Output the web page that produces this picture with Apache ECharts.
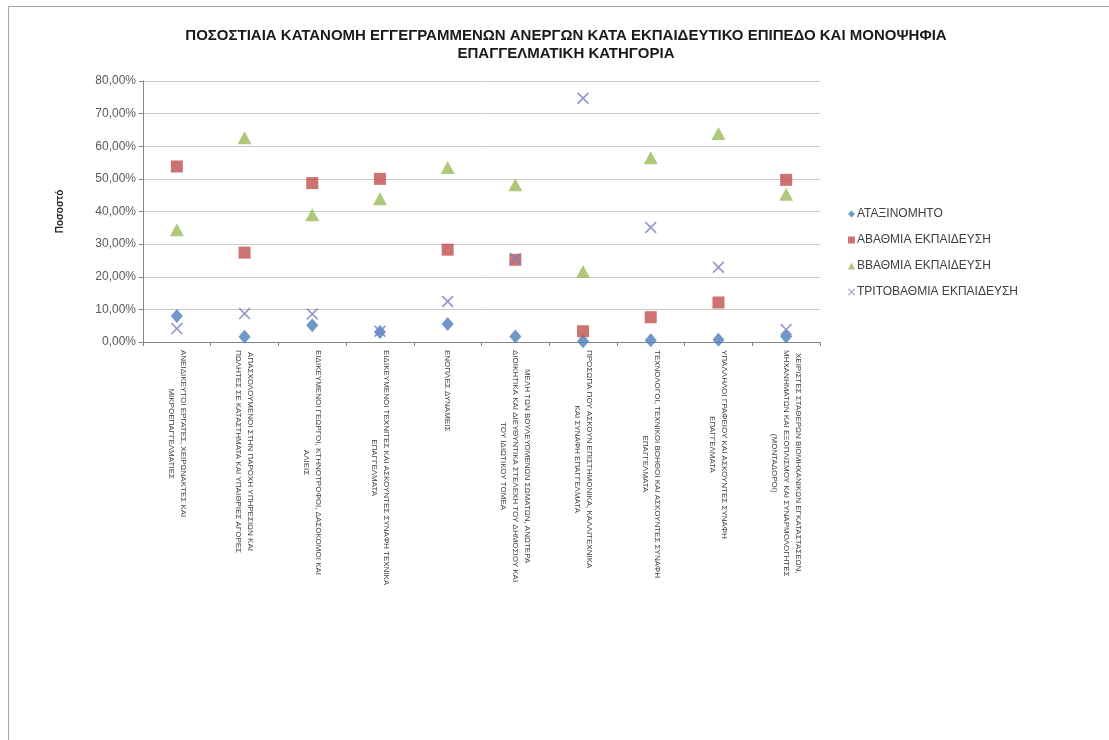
<!DOCTYPE html>
<html>
<head>
<meta charset="utf-8">
<script src="https://cdn.jsdelivr.net/npm/echarts@6/dist/echarts.min.js"></script>
<style>
html,body{margin:0;padding:0;background:#fff;}
#frame{position:absolute;left:8px;top:6px;width:1101px;height:734px;border-left:1px solid #a6a6a6;border-top:1px solid #a6a6a6;}
#chart{position:absolute;left:0;top:0;width:1109px;height:740px;}
</style>
</head>
<body>
<div id="frame"></div>
<div id="chart"></div>
<script>
var categories = [
  "ΑΝΕΙΔΙΚΕΥΤΟΙ ΕΡΓΑΤΕΣ, ΧΕΙΡΩΝΑΚΤΕΣ ΚΑΙ\nΜΙΚΡΟΕΠΑΓΓΕΛΜΑΤΙΕΣ",
  "ΑΠΑΣΧΟΛΟΥΜΕΝΟΙ ΣΤΗΝ ΠΑΡΟΧΗ ΥΠΗΡΕΣΙΩΝ ΚΑΙ\nΠΩΛΗΤΕΣ ΣΕ ΚΑΤΑΣΤΗΜΑΤΑ ΚΑΙ ΥΠΑΙΘΡΙΕΣ ΑΓΟΡΕΣ",
  "ΕΙΔΙΚΕΥΜΕΝΟΙ ΓΕΩΡΓΟΙ, ΚΤΗΝΟΤΡΟΦΟΙ, ΔΑΣΟΚΟΜΟΙ ΚΑΙ\nΑΛΙΕΙΣ",
  "ΕΙΔΙΚΕΥΜΕΝΟΙ ΤΕΧΝΙΤΕΣ ΚΑΙ ΑΣΚΟΥΝΤΕΣ ΣΥΝΑΦΗ ΤΕΧΝΙΚΑ\nΕΠΑΓΓΕΛΜΑΤΑ",
  "ΕΝΟΠΛΕΣ ΔΥΝΑΜΕΙΣ",
  "ΜΕΛΗ ΤΩΝ ΒΟΥΛΕΥΟΜΕΝΩΝ ΣΩΜΑΤΩΝ, ΑΝΩΤΕΡΑ\nΔΙΟΙΚΗΤΙΚΑ ΚΑΙ ΔΙΕΥΘΥΝΤΙΚΑ ΣΤΕΛΕΧΗ ΤΟΥ ΔΗΜΟΣΙΟΥ ΚΑΙ\nΤΟΥ ΙΔΙΩΤΙΚΟΥ ΤΟΜΕΑ",
  "ΠΡΟΣΩΠΑ ΠΟΥ ΑΣΚΟΥΝ ΕΠΙΣΤΗΜΟΝΙΚΑ, ΚΑΛΛΙΤΕΧΝΙΚΑ\nΚΑΙ ΣΥΝΑΦΗ ΕΠΑΓΓΕΛΜΑΤΑ",
  "ΤΕΧΝΟΛΟΓΟΙ, ΤΕΧΝΙΚΟΙ ΒΟΗΘΟΙ ΚΑΙ ΑΣΚΟΥΝΤΕΣ ΣΥΝΑΦΗ\nΕΠΑΓΓΕΛΜΑΤΑ",
  "ΥΠΑΛΛΗΛΟΙ ΓΡΑΦΕΙΟΥ ΚΑΙ ΑΣΚΟΥΝΤΕΣ ΣΥΝΑΦΗ\nΕΠΑΓΓΕΛΜΑΤΑ",
  "ΧΕΙΡΙΣΤΕΣ ΣΤΑΘΕΡΩΝ ΒΙΟΜΗΧΑΝΙΚΩΝ ΕΓΚΑΤΑΣΤΑΣΕΩΝ,\nΜΗΧΑΝΗΜΑΤΩΝ ΚΑΙ ΕΞΟΠΛΙΣΜΟΥ ΚΑΙ ΣΥΝΑΡΜΟΛΟΓΗΤΕΣ\n(ΜΟΝΤΑΔΟΡΟΙ)"
];
var seriesNames = ["ΑΤΑΞΙΝΟΜΗΤΟ", "ΑΒΑΘΜΙΑ ΕΚΠΑΙΔΕΥΣΗ", "ΒΒΑΘΜΙΑ ΕΚΠΑΙΔΕΥΣΗ", "ΤΡΙΤΟΒΑΘΜΙΑ ΕΚΠΑΙΔΕΥΣΗ"];
var unclassified = [8.0, 1.6, 5.1, 3.1, 5.5, 1.7, 0.2, 0.5, 0.7, 1.7];
var primaryEdu   = [53.8, 27.4, 48.7, 50.0, 28.3, 25.2, 3.3, 7.6, 12.1, 49.7];
var secondaryEdu = [34.4, 62.6, 39.0, 43.9, 53.5, 48.2, 21.6, 56.5, 63.9, 45.3];
var tertiaryEdu  = [4.1, 8.7, 8.6, 3.3, 12.4, 25.6, 74.7, 35.1, 22.9, 3.8];
var yTicks = [0, 10, 20, 30, 40, 50, 60, 70, 80];

var xPath = 'path://M0,1L1,0L5,4L9,0L10,1L6,5L10,9L9,10L5,6L1,10L0,9L4,5Z';
var narrowFont = "'Liberation Sans Narrow','Liberation Sans',sans-serif";
var regFont = "'Liberation Sans',Arial,sans-serif";

var chart = echarts.init(document.getElementById('chart'), null, {renderer: 'canvas'});
function fmtCat(v) {
  return v.split('\n').map(function (l) { return '{c|' + l + '}'; }).join('\n');
}
var option = {
  backgroundColor: 'transparent',
  animation: false,
  title: {
    text: 'ΠΟΣΟΣΤΙΑΙΑ ΚΑΤΑΝΟΜΗ ΕΓΓΕΓΡΑΜΜΕΝΩΝ ΑΝΕΡΓΩΝ ΚΑΤΑ ΕΚΠΑΙΔΕΥΤΙΚΟ ΕΠΙΠΕΔΟ ΚΑΙ ΜΟΝΟΨΗΦΙΑ\nΕΠΑΓΓΕΛΜΑΤΙΚΗ ΚΑΤΗΓΟΡΙΑ',
    left: 561, top: 22, textAlign: 'center',
    textStyle: {fontFamily: narrowFont, fontWeight: 'bold', fontSize: 15, color: '#1a1a1a', lineHeight: 18}
  },
  legend: {
    orient: 'vertical', left: 843, top: 203, itemGap: 14,
    itemWidth: 7, itemHeight: 7,
    data: seriesNames,
    textStyle: {fontFamily: regFont, fontSize: 12, color: '#404040', padding: [0, 0, 0, -3]}
  },
  grid: {left: 143, right: 289, top: 81, bottom: 398, containLabel: false},
  xAxis: {
    type: 'category', data: categories, boundaryGap: true,
    axisLine: {lineStyle: {color: '#868686', width: 1}},
    axisTick: {show: true, interval: 0, length: 4, lineStyle: {color: '#868686'}},
    splitLine: {show: false},
    axisLabel: {
      interval: 0, rotate: -90, margin: 8,
      formatter: fmtCat,
      fontFamily: narrowFont, fontSize: 8, color: '#404040', lineHeight: 12,
      rich: {c: {align: 'center', fontFamily: narrowFont, fontSize: 8, color: '#404040', lineHeight: 12}}
    }
  },
  yAxis: {
    type: 'value', min: 0, max: 80, interval: 10,
    name: 'Ποσοστό', nameLocation: 'middle', nameGap: 78, nameRotate: 90,
    nameTextStyle: {fontFamily: regFont, fontWeight: 'bold', fontSize: 10, color: '#262626'},
    axisLine: {show: true, lineStyle: {color: '#868686'}},
    axisTick: {show: true, length: 4, lineStyle: {color: '#868686'}},
    splitLine: {lineStyle: {color: '#c8c8c8', width: 1}},
    axisLabel: {
      margin: 7, fontFamily: regFont, fontSize: 12, color: '#595959',
      formatter: function (v) { return v.toFixed(2).replace('.', ',') + '%'; }
    }
  },
  series: [
    {name: seriesNames[0], type: 'scatter', data: unclassified, symbol: 'diamond', symbolSize: [12, 14],
     itemStyle: {color: '#4a7ebb'}},
    {name: seriesNames[1], type: 'scatter', data: primaryEdu, symbol: 'rect', symbolSize: 12,
     itemStyle: {color: '#c0504d'}},
    {name: seriesNames[2], type: 'scatter', data: secondaryEdu, symbol: 'triangle', symbolSize: [14, 13],
     itemStyle: {color: '#9bbb59'}},
    {name: seriesNames[3], type: 'scatter', data: tertiaryEdu, symbol: xPath, symbolSize: 12,
     itemStyle: {color: '#7b7fc0'}}
  ]
};
chart.setOption(option);
</script>
</body>
</html>
